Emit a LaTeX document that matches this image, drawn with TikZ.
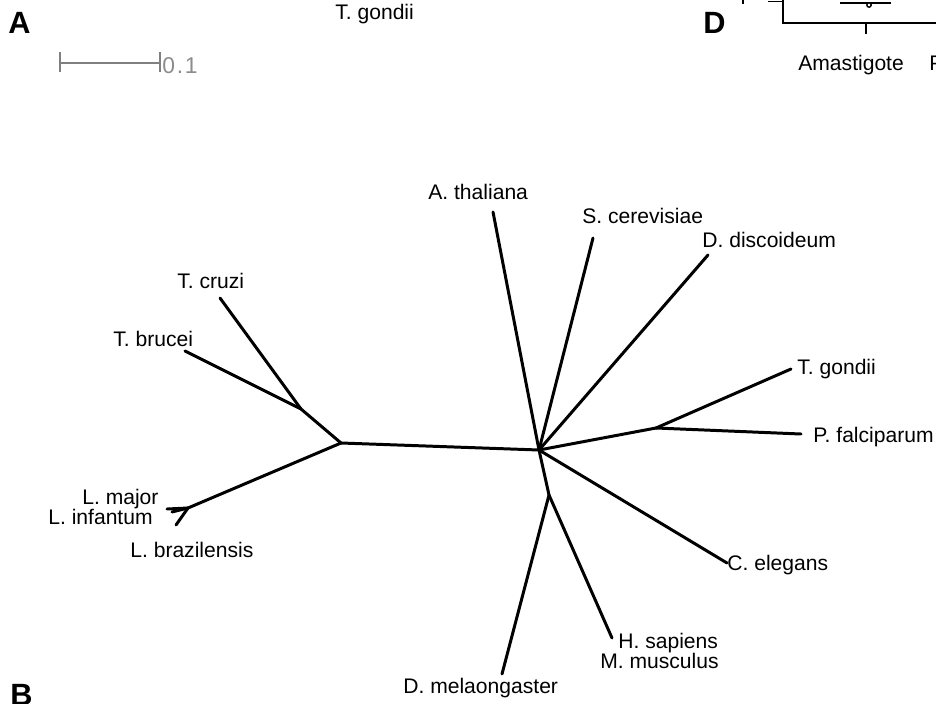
\documentclass[tikz,border=0pt]{standalone}
\usepackage{fontspec}
\setmainfont{Liberation Sans}
\begin{document}
\begin{tikzpicture}[x=0.02cm,y=-0.02cm,
  branch/.style={line width=1.7pt,line cap=round},
  plotline/.style={line width=1.1pt},
  lab/.style={inner sep=0pt,anchor=base west,font=\fontsize{12}{14}\selectfont},
  panel/.style={inner sep=0pt,anchor=base west,font=\fontsize{17.5}{20}\selectfont\bfseries},
  scalebar/.style={line width=1.1pt,draw=black!50}]
\useasboundingbox (0,0) rectangle (936,703);
\clip (0,0) rectangle (936,703);
% panel letters
\node[panel] (pA) at (8,33) {A};
\node[panel] (pD) at (703,33) {D};
\node[panel] (pB) at (10,705) {B};
\node[lab] (tg0) at (335,19) {T. gondii};
% scale bar
\coordinate (s1) at (60,63);
\coordinate (s2) at (160,63);
\draw[scalebar] (s1) -- (s2);
\draw[scalebar] ([yshift=-5]s1) -- ([yshift=6]s1);
\draw[scalebar] ([yshift=-5]s2) -- ([yshift=6]s2);
\node[lab,text=black!45,font=\fontsize{13}{15}\selectfont] (sl) at (162,73) {0\kern1pt.\kern1pt1};
% partial panel D plot
\coordinate (d1) at (783,0);
\coordinate (d2) at (783,23);
\coordinate (d3) at (936,23);
\coordinate (d4) at (866,23);
\coordinate (d5) at (866,34);
\draw[plotline] (d1) -- (d2) -- (d3);
\draw[plotline] (d4) -- (d5);
\coordinate (e1) at (768,1.5);
\coordinate (e2) at (783,1.5);
\draw[plotline] (e1) -- (e2);
\coordinate (f1) at (743,0);
\coordinate (f2) at (743,4);
\draw[plotline] (f1) -- (f2);
\coordinate (g1) at (840,3);
\coordinate (g2) at (891,3);
\draw[plotline] (g1) -- (g2);
\coordinate (gc) at (869,5);
\draw[line width=0.8pt,fill=white] (gc) circle (2.2);
\node[lab] (ama) at (798,70) {Amastigote};
\node[lab] (pro) at (929,70) {Promastigote};
% tree internal nodes
\coordinate (L) at (341,443);
\coordinate (C) at (539,450);
\coordinate (T) at (301,409);
\coordinate (J) at (188,508);
\coordinate (P) at (656,428);
\coordinate (V) at (549,495);
% tips
\coordinate (tcr) at (220,298);
\coordinate (tbr) at (185,351);
\coordinate (lma) at (167,509);
\coordinate (lin) at (172,512);
\coordinate (lbr) at (176,525);
\coordinate (ath) at (493,212);
\coordinate (sce) at (593,238);
\coordinate (ddi) at (708,255);
\coordinate (tgo) at (791,369);
\coordinate (pfa) at (801,434);
\coordinate (cel) at (727,563);
\coordinate (hsa) at (612,638);
\coordinate (dme) at (502,674);
% branches
\draw[branch] (L) -- (C);
\draw[branch] (L) -- (T);
\draw[branch] (T) -- (tcr);
\draw[branch] (T) -- (tbr);
\draw[branch] (L) -- (J);
\draw[branch] (J) -- (lma);
\draw[branch] (J) -- (lin);
\draw[branch] (J) -- (lbr);
\draw[branch] (C) -- (ath);
\draw[branch] (C) -- (sce);
\draw[branch] (C) -- (ddi);
\draw[branch] (C) -- (P);
\draw[branch] (P) -- (tgo);
\draw[branch] (P) -- (pfa);
\draw[branch] (C) -- (cel);
\draw[branch] (C) -- (V);
\draw[branch] (V) -- (hsa);
\draw[branch] (V) -- (dme);
% labels
\node[lab] (ltcr) at (177,288) {T. cruzi};
\node[lab] (ltbr) at (113,346) {T. brucei};
\node[lab] (llma) at (82,504) {L. major};
\node[lab] (llin) at (48,524) {L. infantum};
\node[lab] (llbr) at (130,557) {L. brazilensis};
\node[lab] (lath) at (428,199) {A. thaliana};
\node[lab] (lsce) at (582,223) {S. cerevisiae};
\node[lab] (lddi) at (702,247) {D. discoideum};
\node[lab] (ltgo) at (797,374) {T. gondii};
\node[lab] (lpfa) at (813,442) {P. falciparum};
\node[lab] (lcel) at (727,570) {C. elegans};
\node[lab] (lhsa) at (618,648) {H. sapiens};
\node[lab] (lmmu) at (600,668) {M. musculus};
\node[lab] (ldme) at (403,693) {D. melaongaster};
\end{tikzpicture}
\end{document}
